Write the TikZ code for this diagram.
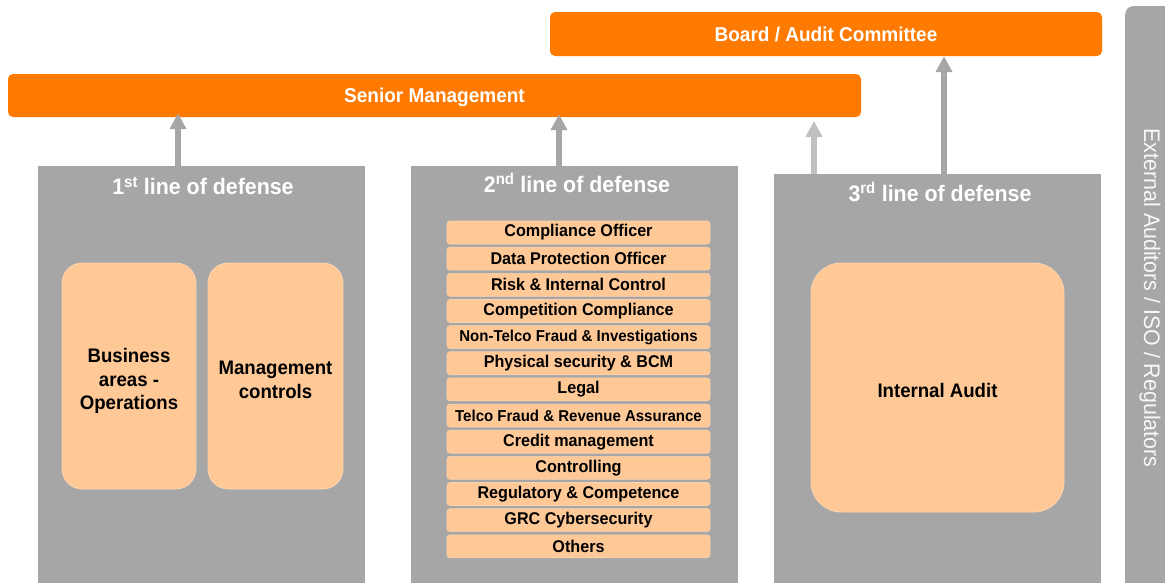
\documentclass[tikz,border=0pt]{standalone}
\usepackage{fontspec}
\setmainfont{Liberation Sans}
\newfontfamily\narrowfont[FakeStretch=0.95]{Liberation Sans}
\usetikzlibrary{arrows.meta}
\definecolor{mgorange}{HTML}{FF7A00}
\definecolor{lodgray}{HTML}{A6A6A6}
\definecolor{lightarrow}{HTML}{C0C0C0}
\definecolor{peach}{HTML}{FFC997}
\definecolor{peachedge}{HTML}{FBD3AE}
\begin{document}
\begin{tikzpicture}[x=1pt,y=-1pt,
  govbar/.style={fill=mgorange, rounded corners=5pt, inner sep=0pt, text=white,
    font=\narrowfont\fontsize{20}{24}\selectfont\bfseries},
  linebox/.style={fill=lodgray, inner sep=0pt, anchor=north west},
  linetitle/.style={text=white, font=\narrowfont\fontsize{22.5}{26}\selectfont\bfseries},
  unitbox/.style={fill=peach, draw=peachedge, line width=0.8pt, inner sep=0pt},
  unittext/.style={align=center, inner sep=0pt,
    font=\narrowfont\fontsize{19.6}{23.5}\selectfont\bfseries},
  roleitem/.style={fill=peach, draw=peachedge, line width=0.6pt, rounded corners=3pt,
    minimum width=263pt, minimum height=23pt, inner sep=0pt,
    font=\narrowfont\fontsize{17}{18}\selectfont\bfseries},
  longrole/.style={font=\narrowfont\fontsize{15.8}{18}\selectfont\bfseries},
  uparrow/.style={draw=lodgray, line width=5.5pt, -{Triangle[width=16pt,length=16pt]}},
]
\useasboundingbox (0,0) rectangle (1165,582);
\fill[white] (0,0) rectangle (1165,582);

% governance bars
\node[govbar, minimum width=552pt, minimum height=44pt] (board) at (826,34) {Board / Audit Committee};
\node[govbar, minimum width=853pt, minimum height=43pt, text depth=0pt] (senior) at (434.5,95.5) {Senior Management};

% external oversight column
\node[fill=lodgray, rounded corners=8pt, minimum width=52pt, minimum height=600pt, inner sep=0pt, anchor=north west] (external) at (1125,6) {};
\node[rotate=-90, text=white!92!lodgray, font=\narrowfont\fontsize{22.5}{26}\selectfont] (externaltext) at (1150,298) {External Auditors / ISO / Regulators};

% three lines of defense
\node[linebox, minimum width=327pt, minimum height=430pt] (first) at (38,166) {};
\node[linebox, minimum width=327pt, minimum height=430pt] (second) at (411,166) {};
\node[linebox, minimum width=327pt, minimum height=420pt] (third) at (774,174) {};

\node[linetitle] (firsttitle) at (203,186) {1\textsuperscript{st} line of defense};
\node[linetitle] (secondtitle) at (577,183) {2\textsuperscript{nd} line of defense};
\node[linetitle] (thirdtitle) at (940,192) {3\textsuperscript{rd} line of defense};

% first line units
\node[unitbox, rounded corners=20pt, minimum width=134pt, minimum height=226pt] (business) at (129,376) {};
\node[unittext] (businesstext) at ([yshift=-5pt]business.center) {Business\\areas -\\Operations};
\node[unitbox, rounded corners=20pt, minimum width=135pt, minimum height=226pt] (mgmtctrl) at (275.5,376) {};
\node[unittext] (mgmtctrltext) at ([yshift=-4pt]mgmtctrl.center) {Management\\controls};

% third line unit
\node[unitbox, rounded corners=30pt, minimum width=253pt, minimum height=249pt] (audit) at (937.5,387.5) {};
\node[unittext] (audittext) at ([yshift=-3pt]audit.center) {Internal Audit};

% second line functions
\foreach \name/\label/\extra [count=\i from 0] in {
  r1/Compliance Officer/,
  r2/Data Protection Officer/,
  r3/Risk \& Internal Control/,
  r4/Competition Compliance/,
  r5/Non-Telco Fraud \& Investigations/longrole,
  r6/Physical security \& BCM/,
  r7/Legal/,
  r8/Telco Fraud \& Revenue Assurance/longrole,
  r9/Credit management/,
  r10/Controlling/,
  r11/Regulatory \& Competence/,
  r12/GRC Cybersecurity/,
  r13/Others/}
  \node[roleitem, \extra] (\name) at (578.5,{232.5+26.15*\i}) {\label};

% reporting lines
\coordinate (thirdtosenior) at (814,121);
\draw[uparrow, shorten >=-4pt] (first.north -| 178,0) -- (senior.south -| 178,0);
\draw[uparrow, shorten >=-3pt] (second.north -| 559,0) -- (senior.south -| 559,0);
\draw[uparrow, draw=lightarrow] (third.north -| thirdtosenior) -- (thirdtosenior);
\draw[uparrow] (third.north -| 944,0) -- (board.south -| 944,0);
\end{tikzpicture}
\end{document}
